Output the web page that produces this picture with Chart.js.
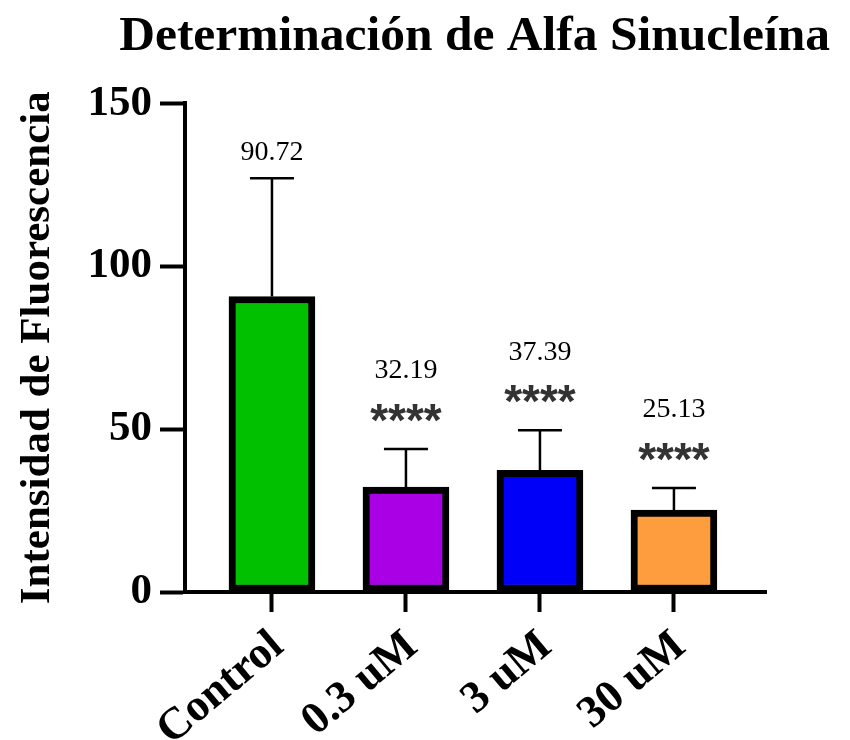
<!DOCTYPE html>
<html>
<head>
<meta charset="utf-8">
<script src="https://cdn.jsdelivr.net/npm/chart.js@4/dist/chart.umd.min.js"></script>
<style>
  html, body { margin: 0; padding: 0; background: #fff; }
  #wrap { width: 850px; height: 740px; }
</style>
</head>
<body>
<div id="wrap"><canvas id="alfaChart" width="850" height="740"></canvas></div>
<script>
// groups and measured means (+ SD, drawn upward only)
const groups = ["Control", "0.3 uM", "3 uM", "30 uM"];
const means = [90.72, 32.19, 37.39, 25.13];
const sd = [36.3, 11.7, 12.3, 6.8];
const stars = ["", "****", "****", "****"];
const yTicks = [0, 50, 100, 150];
const barColors = ["#00c000", "#aa00e6", "#0000f8", "#fd9d3e"];

const serif = "'Liberation Serif', 'Times New Roman', serif";

// SD whiskers, significance marks and mean labels on top of each bar
const errorBars = {
    id: "errorBars",
    afterDatasetsDraw(chart) {
        const ctx = chart.ctx;
        const x = chart.scales.x;
        const y = chart.scales.y;
        ctx.save();
        for (let i = 0; i < means.length; i++) {
            const cx = x.getPixelForValue(i);
            const yTop = y.getPixelForValue(means[i]);
            const yErr = y.getPixelForValue(means[i] + sd[i]);
            ctx.strokeStyle = "#000";
            ctx.lineWidth = 2.5;
            ctx.beginPath();
            ctx.moveTo(cx, yTop);
            ctx.lineTo(cx, yErr);
            ctx.moveTo(cx - 22, yErr);
            ctx.lineTo(cx + 22, yErr);
            ctx.stroke();

            ctx.textAlign = "center";
            ctx.textBaseline = "middle";
            let labelY = yErr - 26;
            if (stars[i]) {
                ctx.fillStyle = "#333";
                ctx.font = "bold 46px 'Liberation Sans', Arial, sans-serif";
                ctx.fillText(stars[i], cx, yErr - 26);
                labelY = yErr - 78;
            }
            ctx.fillStyle = "#000";
            ctx.font = "28px " + serif;
            ctx.fillText(means[i].toFixed(2), cx, labelY);
        }
        ctx.restore();
    }
};

let ctx = document.getElementById("alfaChart").getContext("2d");
let alfaChart = new Chart(ctx, {
    type: "bar",
    data: {
        datasets: [
            {
                data: means.map((v, i) => ({ x: i, y: v })),
                backgroundColor: barColors,
                borderColor: "#000",
                borderWidth: 7,
                borderSkipped: false,
                barThickness: 86
            }
        ]
    },
    options: {
        responsive: false,
        animation: false,
        layout: { padding: { left: 0, right: 20, top: 0, bottom: 0 } },
        plugins: {
            legend: { display: false },
            tooltip: { enabled: false },
            title: {
                display: true,
                align: "end",
                text: "Determinación de Alfa Sinucleína",
                color: "#000",
                font: { family: serif, size: 49.5, weight: "bold" },
                padding: { top: 8, bottom: 36 }
            }
        },
        scales: {
            x: {
                type: "linear",
                offset: false,
                min: -0.649,
                max: 3.687,
                afterBuildTicks: (axis) => {
                    axis.ticks = groups.map((g, i) => ({ value: i }));
                },
                afterFit: (axis) => { axis.height = 148; },
                ticks: {
                    autoSkip: false,
                    minRotation: 40,
                    maxRotation: 40,
                    color: "#000",
                    padding: 8,
                    labelOffset: 6,
                    font: { family: serif, size: 45, weight: "bold" },
                    callback: (v) => groups[v]
                },
                grid: {
                    offset: false,
                    drawOnChartArea: false,
                    tickLength: 20,
                    tickWidth: 4,
                    tickColor: "#000"
                },
                border: { color: "#000", width: 4 }
            },
            y: {
                min: 0,
                max: 150,
                afterBuildTicks: (axis) => {
                    axis.ticks = yTicks.map(v => ({ value: v }));
                },
                afterFit: (axis) => { axis.width = 185; },
                ticks: {
                    color: "#000",
                    padding: 8,
                    font: { family: serif, size: 43, weight: "bold" }
                },
                grid: {
                    drawOnChartArea: false,
                    tickLength: 25,
                    tickWidth: 4,
                    tickColor: "#000"
                },
                border: { color: "#000", width: 4 },
                title: {
                    display: true,
                    text: "Intensidad de Fluorescencia",
                    color: "#000",
                    font: { family: serif, size: 43, weight: "bold" },
                    padding: { top: 12, bottom: 0 }
                }
            },
            // empty right-hand strip so the x axis stops short of the edge
            yRight: {
                position: "right",
                min: 0,
                max: 150,
                ticks: { display: false },
                grid: { display: false },
                border: { display: false },
                afterFit: (axis) => { axis.width = 64; }
            }
        }
    },
    plugins: [errorBars]
});
</script>
</body>
</html>
